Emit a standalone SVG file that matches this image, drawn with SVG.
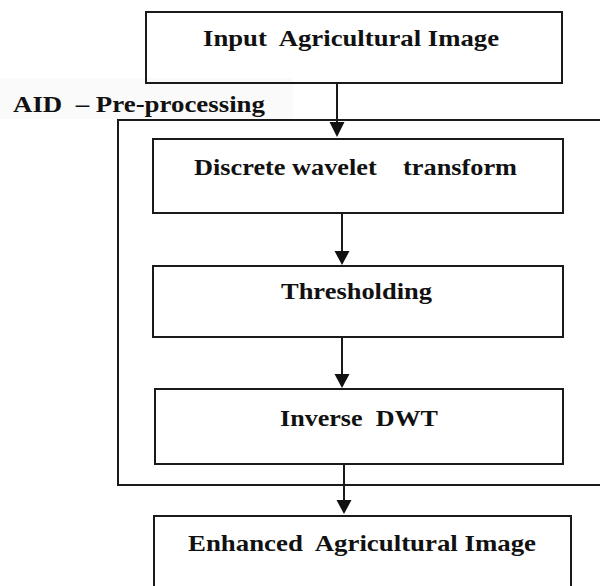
<svg xmlns="http://www.w3.org/2000/svg" width="600" height="586" viewBox="0 0 600 586">
<style>
.box{fill:none;stroke:#1a1a1a;stroke-width:2}
.lbl{font-family:"Liberation Serif","Times New Roman",serif;font-weight:bold;font-size:24px;fill:#111;white-space:pre}
.con{stroke:#1a1a1a;stroke-width:2;fill:none}
.head{fill:#111}
</style>
<rect width="600" height="586" fill="#fff"/>
<rect x="0" y="78" width="293" height="41" fill="#fafafa"/>
<g id="frame">
<path d="M610,120 H118 V485 H610" class="box"/>
<text class="lbl" xml:space="preserve" x="13" y="112" textLength="252" lengthAdjust="spacingAndGlyphs">AID  – Pre-processing</text>
</g>
<g id="input">
<rect class="box" x="146" y="12" width="416" height="71"/>
<text class="lbl" xml:space="preserve" x="203" y="46" textLength="296" lengthAdjust="spacingAndGlyphs">Input  Agricultural Image</text>
</g>
<g id="dwt">
<rect class="box" x="153" y="139" width="410" height="74"/>
<text class="lbl" xml:space="preserve" x="194" y="175" textLength="323" lengthAdjust="spacingAndGlyphs">Discrete wavelet    transform</text>
</g>
<g id="thresh">
<rect class="box" x="153" y="266" width="410" height="71"/>
<text class="lbl" xml:space="preserve" x="281" y="299" textLength="151" lengthAdjust="spacingAndGlyphs">Thresholding</text>
</g>
<g id="idwt">
<rect class="box" x="155" y="389" width="408" height="75"/>
<text class="lbl" xml:space="preserve" x="280" y="426" textLength="158" lengthAdjust="spacingAndGlyphs">Inverse  DWT</text>
</g>
<g id="enhanced">
<rect class="box" x="154" y="516" width="417" height="90"/>
<text class="lbl" xml:space="preserve" x="188" y="551" textLength="348" lengthAdjust="spacingAndGlyphs">Enhanced  Agricultural Image</text>
</g>
<g id="connectors">
<line class="con" x1="337" y1="83" x2="337" y2="124"/>
<path class="head" d="M329.5,122 H344.5 L337,137 Z"/>
<line class="con" x1="342" y1="213" x2="342" y2="252"/>
<path class="head" d="M334.5,251 H349.5 L342,265 Z"/>
<line class="con" x1="342" y1="337" x2="342" y2="375"/>
<path class="head" d="M334.5,374 H349.5 L342,388 Z"/>
<line class="con" x1="344" y1="464" x2="344" y2="501"/>
<path class="head" d="M336.5,500 H351.5 L344,514 Z"/>
</g>
</svg>
